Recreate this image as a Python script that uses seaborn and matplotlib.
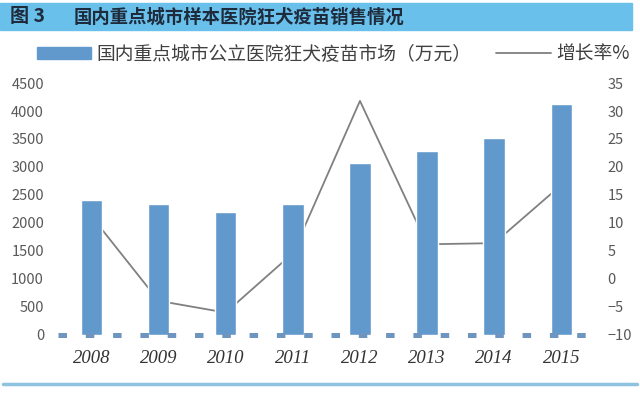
import matplotlib
matplotlib.use("Agg")
import matplotlib.pyplot as plt
import seaborn as sns
import numpy as np
import pandas as pd
from matplotlib.lines import Line2D
from matplotlib.patches import Patch, Rectangle

# values
years = ["2008", "2009", "2010", "2011", "2012", "2013", "2014", "2015"]
sales = [2410, 2335, 2195, 2335, 3075, 3290, 3520, 4120]      # 万元
growth = [11.2, -3.9, -6.0, 4.6, 31.8, 6.2, 6.4, 16.8]       # %

left_ticks = list(range(0, 4501, 500))
right_ticks = list(range(-10, 36, 5))

fig_no = "图 3"
title = "国内重点城市样本医院狂犬疫苗销售情况"
bar_label = "国内重点城市公立医院狂犬疫苗市场（万元）"
line_label = "增长率%"

bar_color = "#6299CD"
line_color = "#808080"
tick_color = "#595959"

sns.set_style("white")
plt.rcParams["font.family"] = ["Noto Sans CJK SC", "DejaVu Sans"]

df = pd.DataFrame({"year": years, "sales": sales, "growth": growth})

fig = plt.figure(figsize=(6.4, 3.93), dpi=100)
ax = fig.add_axes([0.0905, 0.1476, 0.839, 0.6412])
ax2 = ax.twinx()

# bars on the left scale
sns.barplot(data=df, x="year", y="sales", color=bar_color, width=0.32,
            saturation=1, ax=ax)
ax.set_ylim(0, 4500)
ax.set_yticks(left_ticks)
ax.set_xlabel("")
ax.set_ylabel("")

# growth line on the right scale, drawn behind the bars
sns.lineplot(x=np.arange(len(years)), y=df["growth"], color=line_color,
             linewidth=1.3, ax=ax2)
ax2.set_ylim(-10, 35)
ax2.set_yticks(right_ticks)
ax2.set_ylabel("")
ax.set_zorder(2)
ax.patch.set_visible(False)
ax2.set_zorder(1)
ax.set_xlim(-0.5, len(years) - 0.5)

for a in (ax, ax2):
    for s in a.spines.values():
        s.set_visible(False)
ax.spines["bottom"].set_visible(True)
ax.spines["bottom"].set_color("#6D95C0")
ax.spines["bottom"].set_linewidth(3.6)
ax.spines["bottom"].set_linestyle((0, (1.7, 3.76)))
ax.spines["bottom"].set_capstyle("butt")

ax.tick_params(axis="y", length=0, pad=10, labelsize=10.5, labelcolor=tick_color)
ax2.tick_params(axis="y", length=0, pad=9, labelsize=10.5, labelcolor=tick_color)
ax.tick_params(axis="x", length=0, pad=11)
for lbl in ax.get_xticklabels():
    lbl.set_fontfamily("Liberation Serif")
    lbl.set_fontstyle("italic")
    lbl.set_fontsize(13.5)
    lbl.set_color("#333333")

# title band
fig.patches.append(Rectangle((0, 1 - 30 / 393), 632 / 640, 27 / 393,
                             transform=fig.transFigure, color="#69C0EA",
                             zorder=0))
fig.text(10 / 640, 1 - 17 / 393, fig_no, fontsize=13.8, fontweight="bold",
         color="#1E2B3C", va="center", ha="left")
fig.text(74 / 640, 1 - 17 / 393, title, fontsize=13.2, fontweight="bold",
         color="#1E2B3C", va="center", ha="left")

# bottom rule
fig.add_artist(Line2D([0.005, 0.995], [1 - 384 / 393, 1 - 384 / 393],
                      transform=fig.transFigure, color="#8EC3DF", lw=2.5))

handles = [Patch(color=bar_color, label=bar_label),
           Line2D([], [], color=line_color, lw=1.3, label=line_label)]
fig.legend(handles=handles, loc="center left",
           bbox_to_anchor=(20 / 640, 1 - 54 / 393), ncol=2, frameon=False,
           fontsize=13.5, handlelength=2.9, handleheight=0.62,
           handletextpad=0.3, columnspacing=1.3, labelcolor="#404040")

fig.savefig("out.png", dpi=100)
